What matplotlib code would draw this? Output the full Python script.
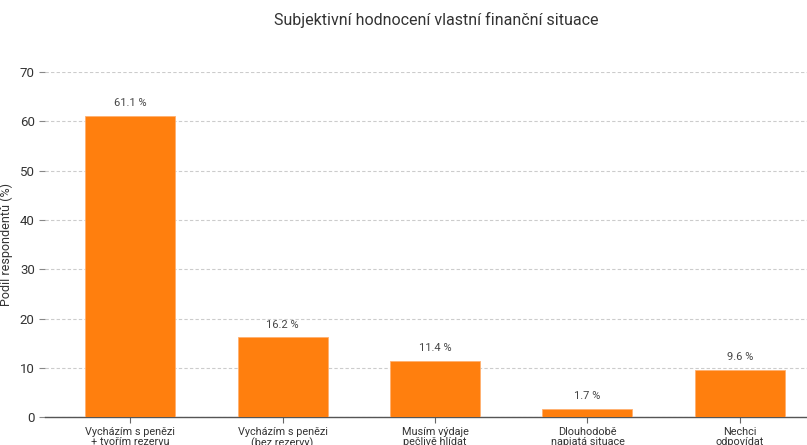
import matplotlib
matplotlib.use("Agg")
import matplotlib.pyplot as plt

# data
categories = [
    "Vycházím s penězi\n+ tvořím rezervu",
    "Vycházím s penězi\n(bez rezervy)",
    "Musím výdaje\npečlivě hlídat",
    "Dlouhodobě\nnapjatá situace",
    "Nechci\nodpovídat",
]
shares = [61.1, 16.2, 11.4, 1.7, 9.6]
yticks = [0, 10, 20, 30, 40, 50, 60, 70]

plt.rcParams["font.family"] = ["Roboto", "DejaVu Sans"]

fig = plt.figure(figsize=(8.07, 4.45), dpi=100)
ax = fig.add_axes([0.056, 0.062, 0.944, 0.776])

x = range(len(categories))
bars = ax.bar(x, shares, width=0.59, color="#ff7f0e", edgecolor="#ffb070",
              linewidth=0.6, zorder=3)
for xi, v in zip(x, shares):
    ax.text(xi, v + 1.6, "{:.1f} %".format(v), ha="center", va="bottom",
            fontsize=8, color="#444444")

ax.set_xlim(-0.557, 4.44)
ax.set_ylim(0, 70)
ax.set_yticks(yticks)
ax.set_xticks(list(x))
ax.set_xticklabels(categories, fontsize=7.8, color="#333333", linespacing=1.0)
ax.tick_params(axis="y", labelsize=9.5, colors="#333333", length=4, color="#888888")
ax.tick_params(axis="x", length=4, color="#666666", pad=3)
ax.yaxis.grid(True, linestyle=(0, (3, 2)), color="#cccccc", linewidth=0.8, zorder=0)
ax.set_axisbelow(True)
for s in ["top", "right", "left"]:
    ax.spines[s].set_visible(False)
ax.spines["bottom"].set_color("#555555")
ax.spines["bottom"].set_linewidth(1.0)

ax.set_ylabel("Podíl respondentů (%)", fontsize=9, color="#333333", labelpad=5)
fig.text(0.54, 0.955, "Subjektivní hodnocení vlastní finanční situace",
         ha="center", va="center", fontsize=11.5, color="#333333")

fig.savefig("out.png", dpi=100)
